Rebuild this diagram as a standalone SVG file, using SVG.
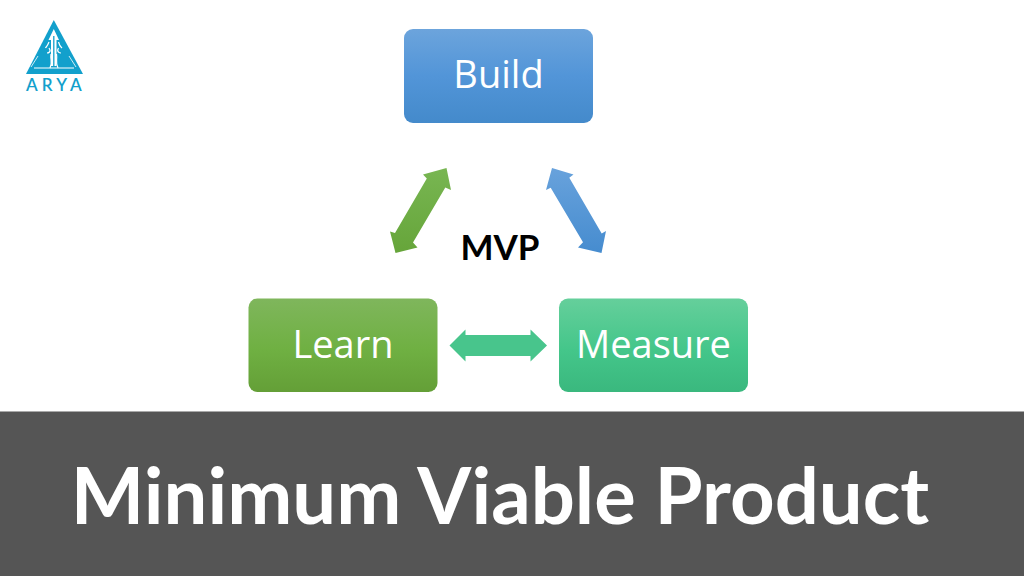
<svg xmlns="http://www.w3.org/2000/svg" width="1024" height="576" viewBox="0 0 1024 576">
<defs>
<linearGradient id="gb" x1="0" y1="0" x2="0" y2="1"><stop offset="0" stop-color="#6ca4dc"/><stop offset="0.5" stop-color="#5295d8"/><stop offset="1" stop-color="#448acb"/></linearGradient>
<linearGradient id="gl" x1="0" y1="0" x2="0" y2="1"><stop offset="0" stop-color="#7fb65c"/><stop offset="0.55" stop-color="#6fb042"/><stop offset="1" stop-color="#649f37"/></linearGradient>
<linearGradient id="gm" x1="0" y1="0" x2="0" y2="1"><stop offset="0" stop-color="#65cf9b"/><stop offset="0.55" stop-color="#44c68a"/><stop offset="1" stop-color="#3ab87e"/></linearGradient>
<linearGradient id="ab" x1="0" y1="0" x2="0" y2="1"><stop offset="0" stop-color="#68a2dc"/><stop offset="1" stop-color="#468ccf"/></linearGradient>
<linearGradient id="al" x1="0" y1="0" x2="0" y2="1"><stop offset="0" stop-color="#78b652"/><stop offset="1" stop-color="#66a53a"/></linearGradient>
</defs>
<style>
.box{stroke:none}
.lbl{font-family:"Open Sans","Noto Sans",sans-serif;font-size:38px;font-weight:400;fill:#fff;text-anchor:middle}
.bold{font-family:Lato,"Open Sans",sans-serif;font-weight:700;text-anchor:middle}
</style>
<rect width="1024" height="576" fill="#fff"/>
<g id="logo">
<path d="M53.800 20 L83 74 L26 74 Z" fill="#12a0cc"/>
<path d="M34 68 H74" stroke="#fff" stroke-width="1.200" fill="none"/>
<path d="M53.800 29 L59 40 H56.500 V66 H51 V40 H48.500 Z" fill="#fff"/>
<path d="M53.800 36 V67" stroke="#12a0cc" stroke-width="1.300"/>
<path d="M49 42 C47 47 46 47 45.500 48 M49 48 C52 52 48 53 47 53 M58.500 42 C60 47 61 47 62 48 M58.500 48 C56 52 60 53 61 53" stroke="#fff" stroke-width="1.200" fill="none"/>
<path d="M51 54 C50 60 53 62 50 68 M56.500 54 C57.500 60 55 62 58 68" stroke="#fff" stroke-width="1.200" fill="none"/>
<path d="M31 67 L38 56 M76 67 L69 56" stroke="#fff" stroke-width="0.800" fill="none"/>
<text x="56" y="91" font-family="Lato,'Open Sans',sans-serif" font-size="17" font-weight="600" letter-spacing="4.200" fill="#12a0cc" text-anchor="middle">ARYA</text>
</g>
<g id="connectors">
<polygon id="arrow-learn-build" fill="url(#al)" points="446.500,168 451,190 445.300,187.500 413,242.500 417.500,247.500 395.500,253 390,231.500 395,233 426.800,178.500 423,174.500"/>
<polygon id="arrow-build-measure" fill="url(#ab)" points="552,168 573.500,174.500 569.300,177.800 601.700,233.500 606,231 601.500,253 578,247.500 583,242.200 550.700,187.800 546,190"/>
<polygon id="arrow-learn-measure" fill="#48c58c" points="449.500,345.500 465.500,329.500 465.500,335 530.500,335 530.500,329.500 547,345.500 530.500,361.500 530.500,356 465.500,356 465.500,361.500"/>
</g>
<g id="build"><rect class="box" x="404" y="29" width="189" height="94" rx="9" fill="url(#gb)"/><text class="lbl" x="498.500" y="88">Build</text></g>
<g id="learn"><rect class="box" x="248.500" y="298.500" width="189" height="93.500" rx="9" fill="url(#gl)"/><text class="lbl" x="343" y="358">Learn</text></g>
<g id="measure"><rect class="box" x="559" y="298.500" width="189" height="93.500" rx="9" fill="url(#gm)"/><text class="lbl" x="653.500" y="358">Measure</text></g>
<g id="mvp"><text class="bold" x="500" y="260" font-size="35" fill="#000">MVP</text></g>
<g id="banner"><rect x="0" y="411.500" width="1024" height="164.500" fill="#555"/><text class="bold" x="500" y="524" font-size="77.800" fill="#fff">Minimum Viable Product</text></g>
</svg>
